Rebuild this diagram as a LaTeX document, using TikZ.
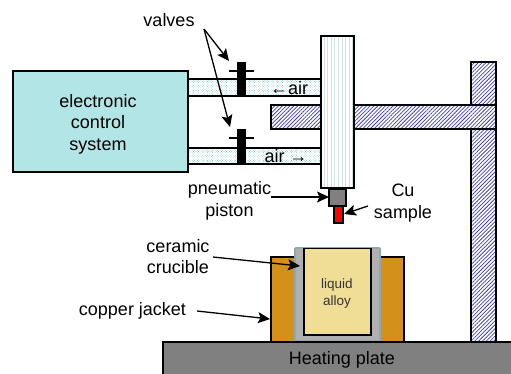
\documentclass[tikz,border=0pt]{standalone}
\usepackage{fontspec}
\setmainfont{Liberation Sans}
\usetikzlibrary{arrows.meta,patterns.meta}
\definecolor{boxcyan}{HTML}{B2E5E5}
\definecolor{jacketc}{HTML}{D39119}
\definecolor{alloyc}{HTML}{F0DE97}
\definecolor{crucc}{HTML}{B0B0B0}
\definecolor{crucedge}{HTML}{8FA9AD}
\definecolor{hatchc}{HTML}{4040B8}
\begin{document}
\begin{tikzpicture}[x=1pt,y=-1pt,>={Stealth[length=12pt,width=11pt,inset=2.5pt]},
  part/.style={draw=black,line width=1.3pt},
  pipe/.style={part,preaction={fill=white},pattern={Dots[angle=45,distance=1.8pt,radius=.45pt]},pattern color=cyan!35!gray!75},
  beam/.style={part,preaction={fill=white},pattern={Lines[angle=45,distance=2.7pt,line width=.75pt]},pattern color=hatchc},
  tube/.style={part,preaction={fill=white},pattern={Lines[angle=90,distance=3.6pt,line width=.9pt]},pattern color=cyan!25!gray!30},
  lab/.style={align=center,font=\fontsize{18}{21.5}\selectfont,inner sep=0pt},
  pointer/.style={->,line width=1.3pt}]
\useasboundingbox (0,0) rectangle (511,373);
% support
\draw[beam] (471,62) rectangle (496,343);
\draw[beam] (271,105) rectangle (496,129);
% air lines
\draw[pipe] (188,79) rectangle (321,96);
\draw[pipe] (188,148) rectangle (321,164);
\draw[part,fill=boxcyan] (13,71) rectangle (188,172);
\draw[tube] (321,36) rectangle (354,188);
% valves
\foreach \vy in {62,129}{
  \fill (237,\vy) rectangle (246,\vy+34);
  \draw[line width=1.3pt] (229,\vy+9) -- (254,\vy+9);
}
% piston and sample
\draw[part,fill=gray] (329,189) rectangle (346,206);
\draw[part,fill=red] (334,206) rectangle (343,223);
% furnace
\draw[part,fill=jacketc] (271,257) rectangle (404,342);
\draw[line width=2pt,draw=crucedge,fill=crucc,rounded corners=1pt] (295,248) rectangle (380,341);
\draw[part,fill=alloyc] (304,248.5) rectangle (371,335);
\draw[part,fill=gray] (163,342) rectangle (520,380);
% labels
\node[lab] (ctrl) at (98,124) {electronic\\control\\system};
\node[lab] (valves) at (169,20) {valves};
\node[lab] (airup) at (289,88) {←air};
\node[lab] (airdn) at (286,156) {air →};
\node[lab] (pist) at (229.5,201) {pneumatic\\piston};
\node[lab] (cu) at (403,203) {Cu\\sample};
\node[lab] (cer) at (178,256.5) {ceramic\\crucible};
\node[lab] (jack) at (132.5,311) {copper jacket};
\node[lab] (heat) at (342,360) {Heating plate};
\node[lab,font=\fontsize{13.5}{17}\selectfont,text=black!80] (liq) at (337,293.5) {liquid\\alloy};
% pointers
\coordinate (vs) at (204,29);
\coordinate (v1) at (229,61);
\coordinate (v2) at (230,127);
\coordinate (ps) at (271,197);
\coordinate (pe) at (329,197);
\coordinate (cs) at (368,206);
\coordinate (ce) at (344,214);
\coordinate (rs) at (213,257);
\coordinate (re) at (300,266);
\coordinate (js) at (197,311);
\coordinate (je) at (270,319);
\draw[pointer] (vs) -- (v1);
\draw[pointer] (vs) -- (v2);
\draw[pointer] (ps) -- (pe);
\draw[pointer] (cs) -- (ce);
\draw[pointer] (rs) -- (re);
\draw[pointer] (js) -- (je);
\end{tikzpicture}
\end{document}
